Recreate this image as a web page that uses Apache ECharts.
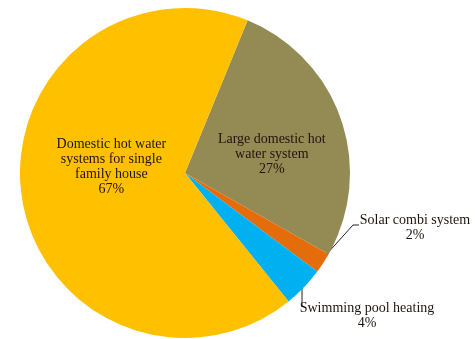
<!DOCTYPE html>
<html>
<head>
<meta charset="utf-8">
<script src="https://cdn.jsdelivr.net/npm/echarts@6/dist/echarts.min.js"></script>
<style>html,body{margin:0;padding:0;background:#fff;}#c{width:475px;height:339px;}</style>
</head>
<body>
<div id="c"></div>
<script>
const categories = ["Large domestic hot\nwater system", "Solar combi system", "Swimming pool heating", "Domestic hot water\nsystems for single\nfamily house"];
const values = [27, 2, 4, 67];
const colors = ["#948A54", "#E46C0A", "#00B0F0", "#FFC000"];

const chart = echarts.init(document.getElementById('c'), null, {renderer: 'canvas'});
const data = categories.map((c, i) => ({
  name: c,
  value: values[i],
  itemStyle: {color: colors[i]},
  label: (i === 1 || i === 2) ? {position: 'outside'} : {position: 'inside'},
  labelLine: {show: i === 1 || i === 2}
}));
chart.setOption({
  animation: false,
  series: [{
    type: 'pie',
    center: [185, 173],
    radius: [0, 165],
    startAngle: 67.7,
    clockwise: true,
    avoidLabelOverlap: false,
    itemStyle: {borderWidth: 0},
    label: {
      show: true,
      formatter: p => p.name + '\n' + p.value + '%',
      fontFamily: 'Liberation Serif',
      fontSize: 14,
      lineHeight: 15,
      color: '#1e150c',
      align: 'center'
    },
    labelLine: {
      lineStyle: {color: '#222', width: 1}
    },
    labelLayout: function (p) {
      if (p.dataIndex === 0) return {dx: 6, dy: 9};
      if (p.dataIndex === 3) return {dx: 11, dy: -19};
      if (p.dataIndex === 1) return {x: 415, y: 228, align: 'center', verticalAlign: 'middle',
        labelLinePoints: [[316, 266], [353, 225], [359, 225]]};
      if (p.dataIndex === 2) return {x: 367, y: 316, align: 'center', verticalAlign: 'middle',
        labelLinePoints: [[302, 286], [302, 296], [302, 307]]};
      return {};
    },
    data: data
  }]
});
</script>
</body>
</html>
